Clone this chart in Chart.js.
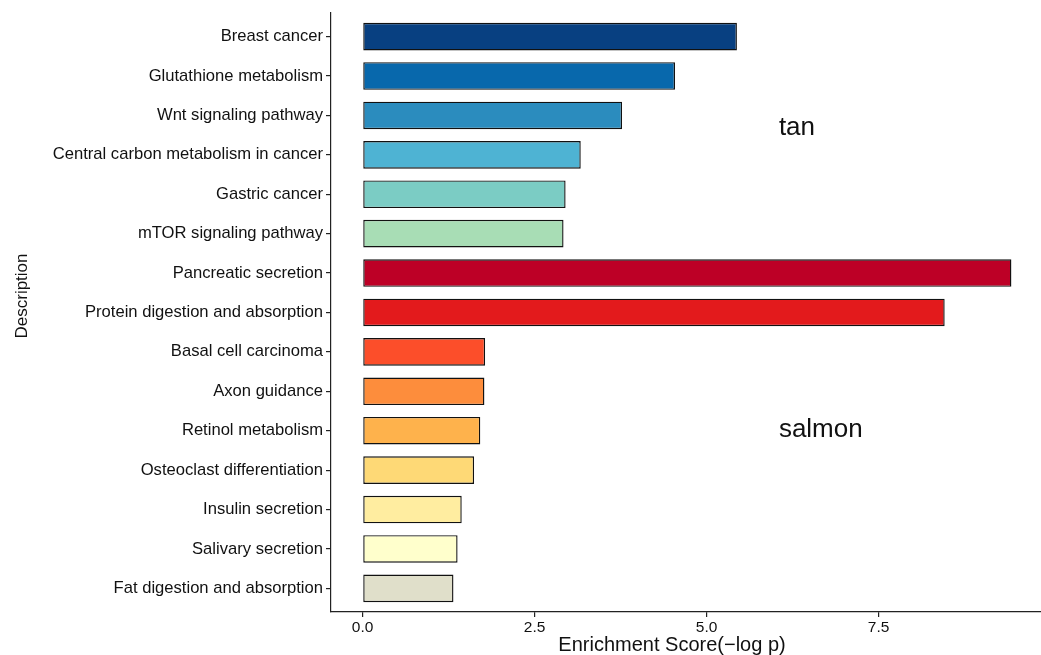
<!DOCTYPE html>
<html lang="en">
<head>
<meta charset="UTF-8">
<title>Pathway enrichment</title>
<style>
  html, body { margin: 0; padding: 0; background: #fff; }
  #wrap { width: 1041px; height: 655px; position: relative; }
</style>
<script src="https://cdn.jsdelivr.net/npm/chart.js@4/dist/chart.umd.min.js"></script>
</head>
<body>
<div id="wrap"><canvas id="chart"></canvas></div>
<script>
// pathways, top to bottom
const pathways = [
  'Breast cancer',
  'Glutathione metabolism',
  'Wnt signaling pathway',
  'Central carbon metabolism in cancer',
  'Gastric cancer',
  'mTOR signaling pathway',
  'Pancreatic secretion',
  'Protein digestion and absorption',
  'Basal cell carcinoma',
  'Axon guidance',
  'Retinol metabolism',
  'Osteoclast differentiation',
  'Insulin secretion',
  'Salivary secretion',
  'Fat digestion and absorption'
];
// enrichment score (-log p)
const scores = [5.44, 4.54, 3.77, 3.17, 2.95, 2.92, 9.43, 8.46, 1.78, 1.77, 1.71, 1.62, 1.44, 1.38, 1.32];
const barColors = [
  '#084081', '#0868ac', '#2b8cbe', '#4eb3d3', '#7bccc4', '#a8ddb5',
  '#bd0026', '#e31a1c', '#fc4e2a', '#fd8d3c', '#feb24c', '#fed976',
  '#ffeda0', '#ffffcc', '#e0dfca'
];
const xTicks = [0, 2.5, 5, 7.5];

// module names written inside the plot
const groupNames = ['tan', 'salmon'];
const groupX = [6.05, 6.05];
const groupY = [2.49, 10.16];

const FONT = '"Liberation Sans", Arial, sans-serif';
const INK = '#111';

const annotations = {
  id: 'annotations',
  afterDraw(chart) {
    const { ctx, scales: { x, y } } = chart;
    ctx.save();
    ctx.fillStyle = INK;
    ctx.font = '26px ' + FONT;
    ctx.textAlign = 'left';
    ctx.textBaseline = 'alphabetic';
    groupNames.forEach((name, i) => {
      ctx.fillText(name, x.getPixelForValue(groupX[i]), y.getPixelForValue(groupY[i]));
    });

    // axis titles
    ctx.textAlign = 'center';
    ctx.textBaseline = 'middle';
    ctx.font = '20px ' + FONT;
    ctx.fillText('Enrichment Score(\u2212log p)', 672, 645);
    ctx.translate(22, 296);
    ctx.rotate(-Math.PI / 2);
    ctx.font = '17px ' + FONT;
    ctx.fillText('Description', 0, 0);
    ctx.restore();
  }
};

new Chart(document.getElementById('chart'), {
  type: 'bar',
  data: {
    datasets: [{
      data: scores.map((v, i) => ({ x: v, y: i })),
      backgroundColor: barColors,
      borderColor: '#111',
      borderWidth: 1.4,
      borderSkipped: false,
      barPercentage: 0.7,
      categoryPercentage: 1
    }]
  },
  options: {
    indexAxis: 'y',
    responsive: true,
    maintainAspectRatio: false,
    animation: false,
    layout: { padding: { top: 12, right: 0, bottom: 0, left: 0 } },
    plugins: {
      legend: { display: false },
      tooltip: { enabled: false }
    },
    scales: {
      y: {
        type: 'linear',
        reverse: true,
        offset: false,
        min: -0.6,
        max: 14.6,
        afterBuildTicks: axis => { axis.ticks = pathways.map((_, i) => ({ value: i })); },
        afterFit: axis => { axis.width = 331; },
        ticks: {
          autoSkip: false,
          callback: v => pathways[v],
          color: INK,
          font: { family: FONT, size: 16.6 },
          padding: 3
        },
        grid: { offset: false, drawOnChartArea: false, drawTicks: true, tickLength: 5, color: '#222', lineWidth: 1.2 },
        border: { display: true, color: '#222', width: 1.2 }
      },
      x: {
        type: 'linear',
        min: -0.46,
        max: 9.86,
        afterBuildTicks: axis => { axis.ticks = xTicks.map(v => ({ value: v })); },
        afterFit: axis => { axis.height = 43; },
        ticks: {
          callback: v => v.toFixed(1),
          color: INK,
          font: { family: FONT, size: 15.5 },
          padding: 1,
          maxRotation: 0
        },
        grid: { drawOnChartArea: false, drawTicks: true, tickLength: 5, color: '#222', lineWidth: 1.2 },
        border: { display: true, color: '#222', width: 1.2 }
      }
    }
  },
  plugins: [annotations]
});
</script>
</body>
</html>
